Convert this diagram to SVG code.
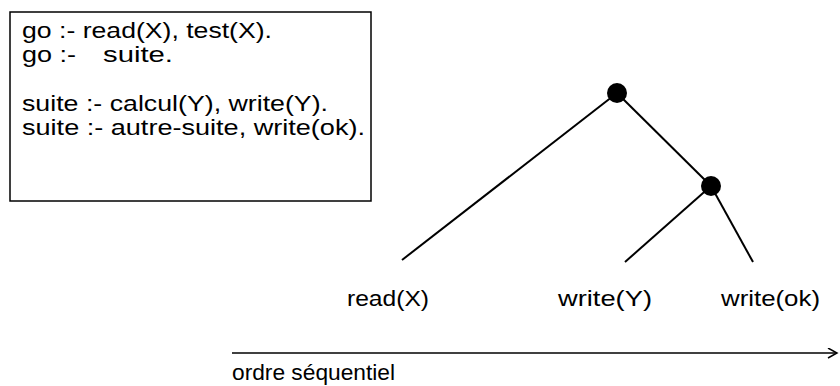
<svg xmlns="http://www.w3.org/2000/svg" width="840" height="386" viewBox="0 0 840 386">
<defs>
<style>
text{font-family:"Liberation Sans",Arial,sans-serif;font-size:22px;fill:#000;white-space:pre}
.e{stroke:#000;stroke-width:2;fill:none}
.n{fill:#000}
</style>
<marker id="ah" markerWidth="12" markerHeight="12" refX="10" refY="5" orient="auto" markerUnits="userSpaceOnUse">
<path d="M1,0 L10,5 L1,10" fill="none" stroke="#000" stroke-width="1.5"/>
</marker>
</defs>
<rect width="840" height="386" fill="#fff"/>
<g id="program">
<rect x="10" y="12" width="361" height="189" fill="none" stroke="#000" stroke-width="1.5"/>
<text x="22" y="38" textLength="250" lengthAdjust="spacingAndGlyphs">go :- read(X), test(X).</text>
<text y="62" xml:space="preserve"><tspan x="22" textLength="54" lengthAdjust="spacingAndGlyphs">go :-</tspan><tspan x="103" textLength="70" lengthAdjust="spacingAndGlyphs">suite.</tspan></text>
<text x="22" y="111" textLength="306" lengthAdjust="spacingAndGlyphs">suite :- calcul(Y), write(Y).</text>
<text x="22" y="135" textLength="343" lengthAdjust="spacingAndGlyphs">suite :- autre-suite, write(ok).</text>
</g>
<g id="connectors">
<line class="e" x1="617" y1="93" x2="402" y2="260"/>
<line class="e" x1="617" y1="93" x2="711" y2="186"/>
<line class="e" x1="711" y1="186" x2="625" y2="262"/>
<line class="e" x1="711" y1="186" x2="753" y2="262"/>
<line x1="232" y1="353" x2="837" y2="353" stroke="#000" stroke-width="1.5" marker-end="url(#ah)"/>
</g>
<g id="root"><circle class="n" cx="617" cy="93" r="10"/></g>
<g id="suite"><circle class="n" cx="711" cy="186" r="10"/></g>
<g id="leaf-read"><text x="347" y="306" textLength="82" lengthAdjust="spacingAndGlyphs">read(X)</text></g>
<g id="leaf-writeY"><text x="558" y="306" textLength="94" lengthAdjust="spacingAndGlyphs">write(Y)</text></g>
<g id="leaf-writeok"><text x="721" y="306" textLength="99" lengthAdjust="spacingAndGlyphs">write(ok)</text></g>
<g id="order"><text x="232" y="380" textLength="163" lengthAdjust="spacingAndGlyphs">ordre séquentiel</text></g>
</svg>
